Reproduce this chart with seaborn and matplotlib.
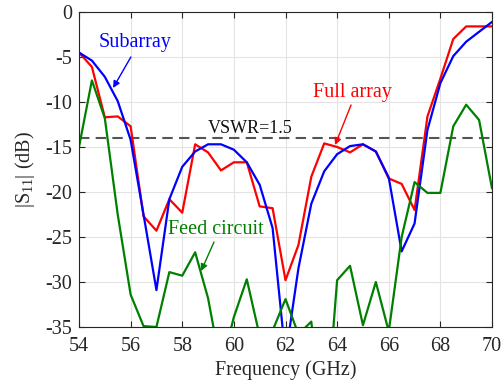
import numpy as np
import pandas as pd
import matplotlib
matplotlib.use("Agg")
import matplotlib.pyplot as plt
import seaborn as sns

freq = [54.0, 54.5, 55.0, 55.5, 56.0, 56.5, 57.0, 57.5, 58.0, 58.5, 59.0, 59.5,
        60.0, 60.5, 61.0, 61.5, 62.0, 62.5, 63.0, 63.5, 64.0, 64.5, 65.0, 65.5,
        66.0, 66.5, 67.0, 67.5, 68.0, 68.5, 69.0, 69.5, 70.0]

full_array = [-4.5, -6.1, -11.7, -11.6, -12.7, -22.7, -24.3, -20.8, -22.3, -14.7, -15.6, -17.6,
              -16.7, -16.7, -21.6, -21.8, -29.8, -25.9, -18.3, -14.6, -15.0, -15.6, -14.7, -15.5,
              -18.5, -19.1, -22.0, -11.6, -7.4, -3.0, -1.6, -1.6, -1.6]

subarray = [-4.5, -5.4, -7.2, -9.9, -14.2, -22.5, -30.9, -20.8, -17.2, -15.5, -14.7, -14.7,
            -15.3, -16.7, -19.2, -24.0, -38.3, -28.5, -21.3, -17.7, -15.8, -14.9, -14.7, -15.5,
            -18.4, -26.6, -23.5, -13.1, -7.9, -4.9, -3.3, -2.2, -1.1]

feed_circuit = [-15.0, -7.6, -11.8, -22.5, -31.4, -34.9, -35.0, -28.9, -29.3, -26.7, -31.8, -39.5,
                -33.9, -29.7, -36.0, -35.4, -31.9, -35.8, -34.4, -48.0, -29.8, -28.2, -34.8, -30.0,
                -35.5, -25.0, -18.9, -20.1, -20.1, -12.7, -10.3, -12.0, -19.6]

series_names = ["Full array", "Subarray", "Feed circuit"]
series_colors = {"Full array": "#ff0000", "Subarray": "#0000ff", "Feed circuit": "#008000"}
vswr_level = -13.98
x_ticks = [54, 56, 58, 60, 62, 64, 66, 68, 70]
y_ticks = [0, -5, -10, -15, -20, -25, -30, -35]

df = pd.concat([
    pd.DataFrame({"freq": freq, "s11": full_array, "series": "Full array"}),
    pd.DataFrame({"freq": freq, "s11": subarray, "series": "Subarray"}),
    pd.DataFrame({"freq": freq, "s11": feed_circuit, "series": "Feed circuit"}),
])

sns.set_theme(style="ticks")
plt.rcParams["font.family"] = ["Liberation Serif", "DejaVu Serif"]
plt.rcParams["mathtext.fontset"] = "custom"
plt.rcParams["mathtext.rm"] = "Liberation Serif"
plt.rcParams["mathtext.it"] = "Liberation Serif:italic"

fig = plt.figure(figsize=(5.02, 3.86), dpi=100)
ax = fig.add_axes([79/502, 1 - 327/386, (492-79)/502, (327-12)/386])

sns.lineplot(data=df, x="freq", y="s11", hue="series", hue_order=series_names,
             palette=series_colors, legend=False, linewidth=1.6, ax=ax,
             estimator=None, sort=False)

ax.axhline(vswr_level, color="#555555", linestyle=(0, (5, 3)), linewidth=1.5, zorder=1)

ax.set_xlim(54, 70)
ax.set_ylim(-35, 0)
ax.set_xticks(x_ticks)
ax.set_yticks(y_ticks)
ax.set_xticklabels([str(t) for t in x_ticks])
ax.set_yticklabels([str(t) for t in y_ticks])
ax.grid(True, color="#e3e3e3", linewidth=0.8)
ax.set_axisbelow(True)

tc = "#262626"
ax.tick_params(direction="in", top=True, right=True, length=4, width=0.8,
               labelsize=14.5, colors=tc)
ax.tick_params(axis="x", pad=7)
ax.tick_params(axis="y", pad=5)
for s in ax.spines.values():
    s.set_color(tc)
    s.set_linewidth(0.8)

ax.set_xlabel("Frequency (GHz)", fontsize=14.5, color=tc, labelpad=3)
ax.set_ylabel(r"|S$_{11}$| (dB)", fontsize=14.5, color=tc, labelpad=6)

fs = 14.5
arrow_kw = dict(arrowstyle="-|>", lw=1.0, mutation_scale=10, shrinkA=0, shrinkB=0)

ax.text(56.17, -3.44, "Subarray", color="#0000ff", fontsize=fs, ha="center", va="center")
ax.annotate("", xy=(55.32, -8.44), xytext=(56.01, -5.0),
            arrowprops=dict(color="#0000ff", **arrow_kw))

ax.text(64.58, -9.0, "Full array", color="#ff0000", fontsize=fs, ha="center", va="center")
ax.annotate("", xy=(63.92, -14.78), xytext=(64.54, -10.33),
            arrowprops=dict(color="#ff0000", **arrow_kw))

ax.text(59.31, -24.2, "Feed circuit", color="#008000", fontsize=fs, ha="center", va="center")
ax.annotate("", xy=(58.73, -28.78), xytext=(59.23, -25.56),
            arrowprops=dict(color="#008000", **arrow_kw))

ax.text(59.0, -12.9, "VSWR=1.5", color="#111111", fontsize=13, ha="left", va="center")

fig.savefig("out.png", dpi=100)
